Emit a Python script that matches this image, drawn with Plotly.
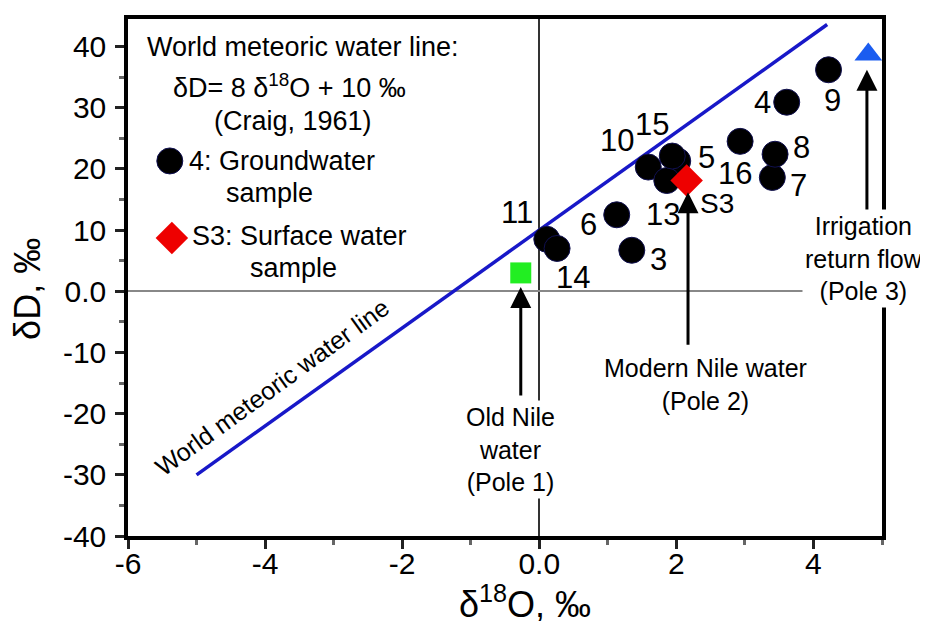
import plotly.graph_objects as go

# ---------------- data ----------------
gw_labels = ["3", "4", "5", "6", "7", "8", "9", "10", "11", "13", "14", "15", "16"]
gw_d18o = [1.35, 3.61, 2.02, 1.13, 3.40, 3.44, 4.22, 1.59, 0.11, 1.86, 0.26, 1.94, 2.93]
gw_dD = [6.7, 30.9, 21.3, 12.5, 18.6, 22.4, 36.2, 20.3, 8.5, 18.1, 7.0, 22.1, 24.5]

sw_labels = ["S3"]
sw_d18o = [2.15]
sw_dD = [18.1]

pole1_d18o, pole1_dD = [-0.27], [3.0]     # Old Nile water
pole3_d18o, pole3_dD = [4.80], [38.7]     # Irrigation return flow

wmwl_d18o = [-5.0, 4.2]
wmwl_dD = [-30.0, 43.6]

x_tickvals = [-6, -4, -2, 0, 2, 4]
x_ticktext = ["-6", "-4", "-2", "0.0", "2", "4"]
y_tickvals = [-40, -30, -20, -10, 0, 10, 20, 30, 40]
y_ticktext = ["-40", "-30", "-20", "-10", "0.0", "10", "20", "30", "40"]

# arrows: (tip x, tip y, tail y)
arrows = [(-0.27, 0.7, -17.3), (2.17, 16.2, -9.0), (4.78, 36.2, 12.9)]

# ---------------- style ----------------
FONT = "Liberation Sans, Arial, sans-serif"
label_shift = {"3": (27, -9), "4": (-24, 0), "5": (29, 3), "6": (-28, -10),
               "7": (26, -8), "8": (26, 7), "9": (4, -31), "10": (-31, 27),
               "11": (-30, 27), "13": (-4, -34), "14": (16, -29), "15": (-20, 32),
               "16": (-5, -32), "S3": (30, -23)}

fig = go.Figure()

fig.add_trace(go.Scatter(x=wmwl_d18o, y=wmwl_dD, mode="lines",
                         line=dict(color="#1818c8", width=3.5), hoverinfo="skip"))

fig.add_trace(go.Scatter(x=gw_d18o, y=gw_dD, mode="markers",
                         marker=dict(symbol="circle", size=26, color="black",
                                     line=dict(color="#101050", width=1))))
fig.add_trace(go.Scatter(x=sw_d18o, y=sw_dD, mode="markers",
                         marker=dict(symbol="diamond", size=25, color="#ee0000",
                                     line=dict(color="#ee0000", width=0))))
fig.add_trace(go.Scatter(x=pole1_d18o, y=pole1_dD, mode="markers",
                         marker=dict(symbol="square", size=21, color="#22ee22")))
fig.add_trace(go.Scatter(x=pole3_d18o, y=pole3_dD, mode="markers",
                         marker=dict(symbol="triangle-up", size=24, color="#1a5cf0")))

# legend-like glyphs in the box
fig.add_trace(go.Scatter(x=[-5.39], y=[21.3], mode="markers",
                         marker=dict(symbol="circle", size=26, color="black",
                                     line=dict(color="#101050", width=1))))
fig.add_trace(go.Scatter(x=[-5.36], y=[8.7], mode="markers",
                         marker=dict(symbol="diamond", size=25, color="#ee0000")))

annotations = []
for lab, xv, yv in zip(gw_labels + sw_labels, gw_d18o + sw_d18o, gw_dD + sw_dD):
    dx, dy = label_shift[lab]
    annotations.append(dict(x=xv, y=yv, xref="x", yref="y", text=lab, showarrow=False,
                            xshift=dx, yshift=dy,
                            font=dict(size=28 if lab == "S3" else 31, color="black", family=FONT)))

for (ax_, tip_y, tail_y) in arrows:
    annotations.append(dict(x=ax_, y=tip_y, ax=ax_, ay=tail_y, xref="x", yref="y",
                            axref="x", ayref="y", text="", showarrow=True,
                            arrowhead=2, arrowsize=1.4, arrowwidth=3, arrowcolor="black",
                            standoff=0, startstandoff=0))

txt = dict(family=FONT, color="black")
annotations += [
    dict(x=-5.75, y=40.0, xref="x", yref="y", xanchor="left", text="World meteoric water line:",
         showarrow=False, font=dict(size=27, **txt)),
    dict(x=-3.64, y=33.6, xref="x", yref="y", text="δD= 8 δ<sup>18</sup>O + 10 ‰",
         showarrow=False, font=dict(size=27, **txt)),
    dict(x=-3.60, y=27.9, xref="x", yref="y", text="(Craig, 1961)",
         showarrow=False, font=dict(size=27, **txt)),
    dict(x=-5.14, y=21.3, xref="x", yref="y", xanchor="left", text="4: Groundwater",
         showarrow=False, font=dict(size=27, **txt)),
    dict(x=-3.93, y=16.1, xref="x", yref="y", text="sample",
         showarrow=False, font=dict(size=27, **txt)),
    dict(x=-5.10, y=9.0, xref="x", yref="y", xanchor="left", text="S3: Surface water",
         showarrow=False, font=dict(size=27, **txt)),
    dict(x=-3.58, y=3.8, xref="x", yref="y", text="sample",
         showarrow=False, font=dict(size=27, **txt)),
    dict(x=-3.90, y=-15.6, xref="x", yref="y", text="World meteoric water line",
         textangle=-36, showarrow=False, font=dict(size=25, **txt)),
    dict(x=-0.42, y=-25.8, xref="x", yref="y", text="Old Nile<br>water<br>(Pole 1)",
         showarrow=False, bgcolor="white", borderpad=2, font=dict(size=25, **txt)),
    dict(x=2.43, y=-15.2, xref="x", yref="y", text="Modern Nile water<br>(Pole 2)",
         showarrow=False, bgcolor="white", font=dict(size=25, **txt)),
    dict(x=4.74, y=5.4, xref="x", yref="y", text="Irrigation<br>return flow<br>(Pole 3)",
         showarrow=False, bgcolor="white", borderpad=2, font=dict(size=25, **txt)),
    dict(x=-0.1326, y=0.478, xref="paper", yref="paper", xanchor="center", yanchor="middle",
         text="δD, ‰", textangle=-90, showarrow=False, font=dict(size=36, **txt)),
    dict(x=0.5265, y=-0.1286, xref="paper", yref="paper", xanchor="center", yanchor="middle",
         text="δ<sup>18</sup>O, ‰", showarrow=False, font=dict(size=36, **txt)),
]

axis_common = dict(showgrid=False, showline=True, linecolor="black", linewidth=3.5,
                   mirror=True, ticks="outside", ticklen=9, tickwidth=3, tickcolor="#222",
                   tickfont=dict(size=30, color="black", family=FONT))

fig.update_layout(
    width=928, height=621,
    margin=dict(l=120, r=54, t=7, b=93),
    paper_bgcolor="white", plot_bgcolor="white",
    showlegend=False,
    annotations=annotations,
    font=dict(family=FONT, color="black"),
    xaxis=dict(range=[-6, 5], tickvals=x_tickvals, ticktext=x_ticktext,
               zeroline=True, zerolinecolor="#333", zerolinewidth=1.5,
               minor=dict(ticks="outside", ticklen=5, tickwidth=3, tickcolor="#666", dtick=1),
               ticklabelstandoff=-11, **axis_common),
    yaxis=dict(range=[-40, 44.5], tickvals=y_tickvals, ticktext=y_ticktext,
               zeroline=True, zerolinecolor="#888", zerolinewidth=2,
               minor=dict(ticks="outside", ticklen=5, tickwidth=3, tickcolor="#666", dtick=5),
               ticklabelstandoff=3, **axis_common),
)

fig.write_html("out.html")
